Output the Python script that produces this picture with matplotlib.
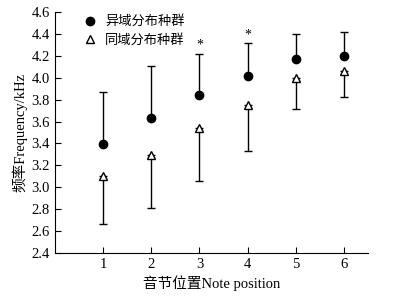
import matplotlib
matplotlib.use("Agg")
import matplotlib.pyplot as plt
from matplotlib.lines import Line2D

positions = [1, 2, 3, 4, 5, 6]
allo_mean = [3.39, 3.63, 3.84, 4.02, 4.17, 4.20]
allo_upper = [3.87, 4.11, 4.22, 4.32, 4.40, 4.42]
sym_mean = [3.10, 3.29, 3.54, 3.75, 4.00, 4.06]
sym_lower = [2.66, 2.81, 3.06, 3.33, 3.71, 3.82]
star_pos = [3, 4]
star_y = [4.30, 4.39]
yticks = [2.4, 2.6, 2.8, 3.0, 3.2, 3.4, 3.6, 3.8, 4.0, 4.2, 4.4, 4.6]

fam = ['Liberation Serif', 'Noto Sans CJK SC']
plt.rcParams['font.family'] = fam

fig = plt.figure(figsize=(3.95, 3.0), dpi=100)
ax = fig.add_axes([0.139, 0.157, 0.793, 0.803])

up_err = [u - m for u, m in zip(allo_upper, allo_mean)]
lo_err = [m - l for m, l in zip(sym_mean, sym_lower)]

ax.errorbar(positions, allo_mean, yerr=[[0]*6, up_err], fmt='o', color='black',
            markersize=6, capsize=3, elinewidth=1, capthick=1, zorder=3)
ax.errorbar(positions, sym_mean, yerr=[lo_err, [0]*6], fmt='^', color='black',
            markerfacecolor='white', markersize=5.5, capsize=3, elinewidth=1, capthick=1,
            zorder=3)
for x, y in zip(star_pos, star_y):
    ax.text(x, y, '*', ha='center', va='center', fontsize=10)

ax.set_xlim(0, 6.5)
ax.set_ylim(2.4, 4.6)
ax.set_xticks(positions)
ax.set_yticks(yticks)
ax.set_yticklabels([f'{v:.1f}' for v in yticks])
ax.tick_params(direction='in', labelsize=10.5, length=4)
ax.spines['top'].set_visible(False)
ax.spines['right'].set_visible(False)
ax.set_xlabel('音节位置Note position', fontsize=10.5, labelpad=3)
ax.set_ylabel('频率Frequency/kHz', fontsize=10.5, labelpad=3)

handles = [Line2D([], [], marker='o', color='black', linestyle='none', markersize=6),
           Line2D([], [], marker='^', color='black', markerfacecolor='white',
                  linestyle='none', markersize=5.5)]
ax.legend(handles, ['异域分布种群', '同域分布种群'], loc='upper left',
          bbox_to_anchor=(0.043, 1.035), frameon=False, fontsize=9.5,
          handletextpad=0.4, labelspacing=0.4, handlelength=1.5)

fig.savefig('out.png', dpi=100)
